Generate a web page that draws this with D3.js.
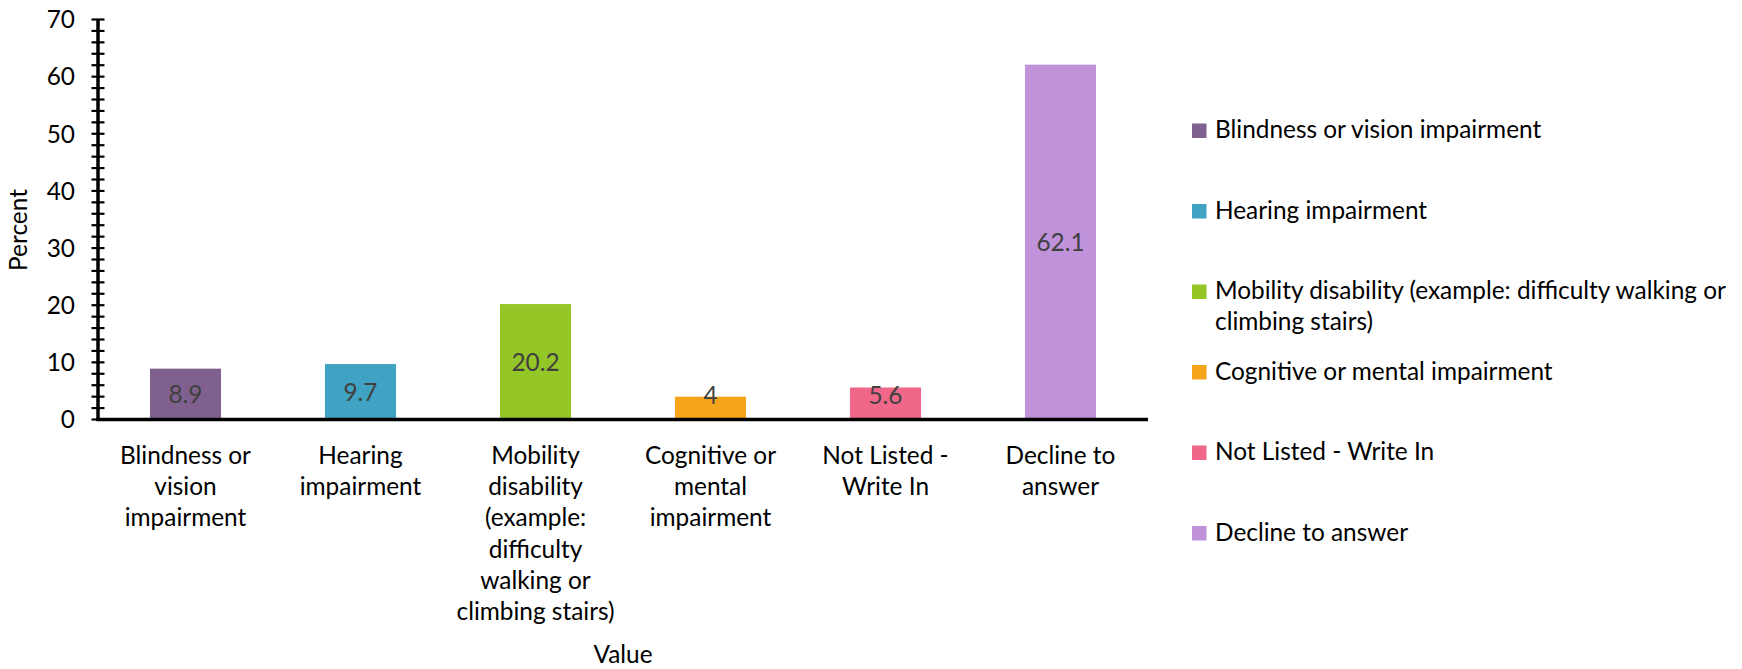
<!DOCTYPE html>
<html>
<head>
<meta charset="utf-8">
<script src="https://cdn.jsdelivr.net/npm/d3@7/dist/d3.min.js"></script>
<style>
  html, body { margin: 0; padding: 0; background: #fff; }
  svg { display: block; }
  text { font-family: Lato, "Open Sans", sans-serif; }
</style>
</head>
<body>
<svg id="chart" width="1742" height="669"></svg>
<script>
// ---- data ----
const categories = [
  "Blindness or vision impairment",
  "Hearing impairment",
  "Mobility disability (example: difficulty walking or climbing stairs)",
  "Cognitive or mental impairment",
  "Not Listed - Write In",
  "Decline to answer"
];
const values = [8.9, 9.7, 20.2, 4, 5.6, 62.1];
const valueLabels = ["8.9", "9.7", "20.2", "4", "5.6", "62.1"];
const colors = ["#7f608e", "#40a3c4", "#94c627", "#f6a51b", "#f06789", "#c092da"];
const xTickLines = [
  ["Blindness or", "vision", "impairment"],
  ["Hearing", "impairment"],
  ["Mobility", "disability", "(example:", "difficulty", "walking or", "climbing stairs)"],
  ["Cognitive or", "mental", "impairment"],
  ["Not Listed -", "Write In"],
  ["Decline to", "answer"]
];
const legendLines = [
  ["Blindness or vision impairment"],
  ["Hearing impairment"],
  ["Mobility disability (example: difficulty walking or", "climbing stairs)"],
  ["Cognitive or mental impairment"],
  ["Not Listed - Write In"],
  ["Decline to answer"]
];
const yTicks = [0, 10, 20, 30, 40, 50, 60, 70];
const yMinorStep = 2;
const xTitle = "Value";
const yTitle = "Percent";

// ---- layout ----
const svg = d3.select("#chart");
const plot = { left: 98, right: 1148, top: 19.5, bottom: 419.5 };

// fit font size so that text widths resemble the reference
const probe = svg.append("text").attr("font-size", 100).text("Blindness or");
const w100 = probe.node().getComputedTextLength();
probe.remove();
const fs = Math.round(131 / w100 * 100 * 10) / 10;
const capOff = fs * 0.36;

const x = d3.scaleBand()
  .domain(categories)
  .range([plot.left, plot.right])
  .paddingInner(0.594)
  .paddingOuter(0.297);

const y = d3.scaleLinear().domain([0, 70]).range([plot.bottom, plot.top]);

// bars
svg.append("g").selectAll("rect")
  .data(categories)
  .join("rect")
  .attr("x", d => x(d))
  .attr("width", x.bandwidth())
  .attr("y", (d, i) => y(values[i]))
  .attr("height", (d, i) => y(0) - y(values[i]))
  .attr("fill", (d, i) => colors[i]);

// value labels (centered, kept inside plot)
svg.append("g").selectAll("text")
  .data(categories)
  .join("text")
  .attr("x", d => x(d) + x.bandwidth() / 2)
  .attr("y", (d, i) => Math.min((y(values[i]) + y(0)) / 2, plot.bottom - 24) + capOff)
  .attr("text-anchor", "middle")
  .attr("font-size", fs)
  .attr("fill", "#404040")
  .text((d, i) => valueLabels[i]);

// y axis with major + minor ticks crossing the line
const minorTicks = d3.range(0, 70 + 0.001, yMinorStep);
const yAxis = svg.append("g");
yAxis.selectAll("line.tick")
  .data(minorTicks)
  .join("line")
  .attr("class", "tick")
  .attr("x1", plot.left - 6.5)
  .attr("x2", plot.left + 6.5)
  .attr("y1", d => y(d))
  .attr("y2", d => y(d))
  .attr("stroke", "#000")
  .attr("stroke-width", 2.2);
yAxis.append("line")
  .attr("x1", plot.left).attr("x2", plot.left)
  .attr("y1", y(70)).attr("y2", y(0) + 1.5)
  .attr("stroke", "#000").attr("stroke-width", 3.5);
yAxis.selectAll("text")
  .data(yTicks)
  .join("text")
  .attr("x", 75)
  .attr("y", d => y(d) + capOff)
  .attr("text-anchor", "end")
  .attr("font-size", fs)
  .attr("fill", "#000")
  .text(d => d);

// x axis line
svg.append("line")
  .attr("x1", plot.left - 1.5).attr("x2", plot.right)
  .attr("y1", y(0)).attr("y2", y(0))
  .attr("stroke", "#000").attr("stroke-width", 3.5);

// x tick labels
const xl = svg.append("g").selectAll("text")
  .data(categories)
  .join("text")
  .attr("text-anchor", "middle")
  .attr("font-size", fs)
  .attr("fill", "#000");
xl.each(function(d, i) {
  const t = d3.select(this);
  xTickLines[i].forEach((line, j) => {
    t.append("tspan")
      .attr("x", x(d) + x.bandwidth() / 2)
      .attr("y", 464 + j * 31.2)
      .text(line);
  });
});

// axis titles
svg.append("text")
  .attr("x", (plot.left + plot.right) / 2)
  .attr("y", 663)
  .attr("text-anchor", "middle")
  .attr("font-size", fs)
  .text(xTitle);
svg.append("text")
  .attr("transform", "translate(27,230) rotate(-90)")
  .attr("text-anchor", "middle")
  .attr("font-size", fs)
  .text(yTitle);

// legend
const lg = svg.append("g");
categories.forEach((c, i) => {
  const by = 138 + i * 80.5;
  lg.append("rect")
    .attr("x", 1192).attr("y", by - 14.5)
    .attr("width", 14.5).attr("height", 14.5)
    .attr("fill", colors[i]);
  const t = lg.append("text").attr("font-size", fs).attr("fill", "#000");
  legendLines[i].forEach((line, j) => {
    t.append("tspan").attr("x", 1215).attr("y", by + j * 31.2).text(line);
  });
});
</script>
</body>
</html>
